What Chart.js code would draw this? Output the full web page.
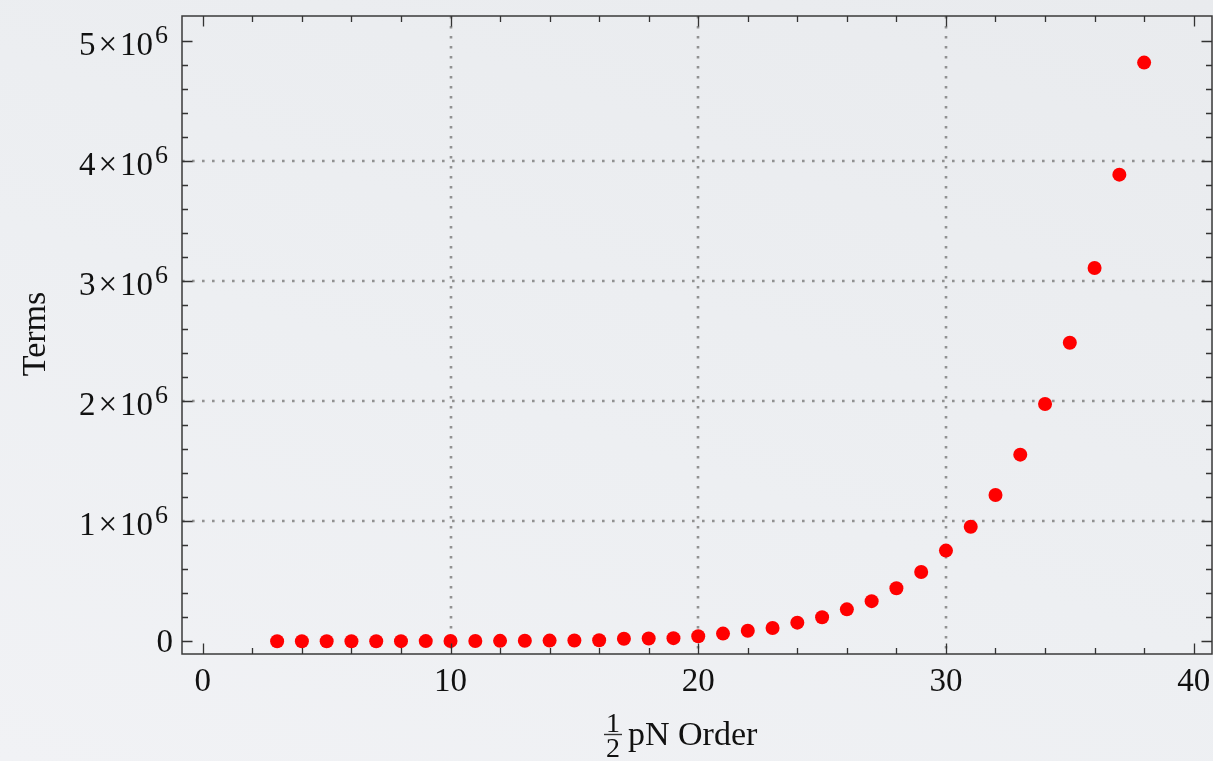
<!DOCTYPE html>
<html>
<head>
<meta charset="utf-8">
<script src="https://cdn.jsdelivr.net/npm/chart.js@4.4.1/dist/chart.umd.min.js"></script>
<style>
  html, body { margin: 0; padding: 0; overflow: hidden; }
  body { width: 1213px; height: 761px; background: linear-gradient(20deg, #f1f2f5 0%, #edeff2 45%, #e9ebee 100%); }
  canvas { display: block; }
</style>
</head>
<body>
<canvas id="termsChart" width="1213" height="761"></canvas>
<script>
// half pN order vs number of terms
const orders = [3, 4, 5, 6, 7, 8, 9, 10, 11, 12, 13, 14, 15, 16, 17, 18, 19, 20,
                21, 22, 23, 24, 25, 26, 27, 28, 29, 30, 31, 32, 33, 34, 35, 36, 37, 38];
const terms = [20, 60, 150, 300, 550, 900, 1400, 2000, 2700, 3500, 4400, 5400, 6500, 8000,
               21000, 23000, 26000, 42000, 64000, 88000, 110000, 155000, 200000, 266000,
               334000, 441000, 577000, 755000, 954000, 1218000, 1554000, 1976000,
               2486000, 3108000, 3886000, 4819000];

const xTicks = [0, 10, 20, 30, 40];
const yTicks = [0, 1e6, 2e6, 3e6, 4e6, 5e6];
const yTickMantissa = ["0", "1", "2", "3", "4", "5"];
const xGrid = [10, 20, 30];
const yGrid = [1e6, 2e6, 3e6, 4e6];

const SERIF = '"Liberation Serif", "DejaVu Serif", serif';

const framePlugin = {
    id: 'frame',
    beforeDatasetsDraw(chart) {
        const ctx = chart.ctx, a = chart.chartArea;
        const xs = chart.scales.x, ys = chart.scales.y;
        ctx.save();
        ctx.strokeStyle = 'rgba(135,135,135,0.9)';
        ctx.lineWidth = 2.6;
        ctx.setLineDash([2.6, 7.4]);
        xGrid.forEach(v => {
            const px = Math.round(xs.getPixelForValue(v));
            ctx.beginPath(); ctx.moveTo(px, a.top); ctx.lineTo(px, a.bottom); ctx.stroke();
        });
        yGrid.forEach(v => {
            const py = Math.round(ys.getPixelForValue(v));
            ctx.beginPath(); ctx.moveTo(a.left, py); ctx.lineTo(a.right, py); ctx.stroke();
        });
        ctx.restore();
    },
    afterDatasetsDraw(chart) {
        const ctx = chart.ctx, a = chart.chartArea;
        const xs = chart.scales.x, ys = chart.scales.y;
        ctx.save();
        // frame
        ctx.strokeStyle = '#3a3a3a';
        ctx.lineWidth = 1.5;
        ctx.strokeRect(a.left, a.top, a.right - a.left, a.bottom - a.top);

        // ticks on all sides, pointing inwards
        ctx.lineWidth = 1.3;
        ctx.strokeStyle = '#333';
        for (let v = 0; v <= 40; v += 2) {
            const px = Math.round(xs.getPixelForValue(v)) + 0.5;
            const len = v % 10 === 0 ? 10.5 : 6;
            ctx.beginPath();
            ctx.moveTo(px, a.bottom); ctx.lineTo(px, a.bottom - len);
            ctx.moveTo(px, a.top); ctx.lineTo(px, a.top + len);
            ctx.stroke();
        }
        for (let k = 0; k <= 25; k++) {
            const py = Math.round(ys.getPixelForValue(k * 2e5)) + 0.5;
            const len = k % 5 === 0 ? 10.5 : 6;
            ctx.beginPath();
            ctx.moveTo(a.left, py); ctx.lineTo(a.left + len, py);
            ctx.moveTo(a.right, py); ctx.lineTo(a.right - len, py);
            ctx.stroke();
        }

        // x tick labels
        ctx.fillStyle = '#111';
        ctx.font = '33px ' + SERIF;
        ctx.textAlign = 'center';
        ctx.textBaseline = 'alphabetic';
        xTicks.forEach(v => {
            ctx.fillText(String(v), xs.getPixelForValue(v), a.bottom + 37);
        });

        // y tick labels, m×10^6
        yTicks.forEach((v, i) => {
            const py = ys.getPixelForValue(v);
            ctx.textAlign = 'right';
            if (v === 0) {
                ctx.font = '33px ' + SERIF;
                ctx.fillText(yTickMantissa[i], 173, py + 11);
                return;
            }
            ctx.font = '26px ' + SERIF;
            ctx.fillText('6', 168, py + 2);
            let right = 168 - ctx.measureText('6').width - 2;
            ctx.font = '33px ' + SERIF;
            ctx.fillText('10', right, py + 14);
            right -= ctx.measureText('10').width + 3;
            ctx.fillText('×', right, py + 14);
            right -= ctx.measureText('×').width + 3;
            ctx.fillText(yTickMantissa[i], right, py + 14);
        });

        // y axis title
        ctx.save();
        ctx.translate(45, 334);
        ctx.rotate(-Math.PI / 2);
        ctx.textAlign = 'center';
        ctx.font = '34px ' + SERIF;
        ctx.fillText('Terms', 0, 0);
        ctx.restore();

        // x axis title: 1/2 pN Order
        ctx.font = '28px ' + SERIF;
        ctx.textAlign = 'center';
        ctx.fillText('1', 613, 732);
        ctx.fillText('2', 613, 757);
        ctx.lineWidth = 1.4;
        ctx.beginPath(); ctx.moveTo(604, 734.5); ctx.lineTo(622, 734.5); ctx.stroke();
        ctx.font = '34px ' + SERIF;
        ctx.textAlign = 'left';
        ctx.fillText('pN Order', 628, 745);
        ctx.restore();
    }
};

new Chart(document.getElementById('termsChart'), {
    type: 'scatter',
    data: {
        datasets: [{
            label: 'Terms',
            data: orders.map((o, i) => ({ x: o, y: terms[i] })),
            backgroundColor: '#ff0000',
            borderWidth: 0,
            pointRadius: 7,
            pointHoverRadius: 7
        }]
    },
    options: {
        responsive: false,
        animation: false,
        devicePixelRatio: 1,
        layout: { autoPadding: false, padding: { left: 182, top: 16, right: 1, bottom: 107 } },
        plugins: { legend: { display: false }, tooltip: { enabled: false } },
        scales: {
            x: { type: 'linear', min: -0.84, max: 40.74, display: false },
            y: { type: 'linear', min: -106000, max: 5207000, display: false }
        }
    },
    plugins: [framePlugin]
});
</script>
</body>
</html>
